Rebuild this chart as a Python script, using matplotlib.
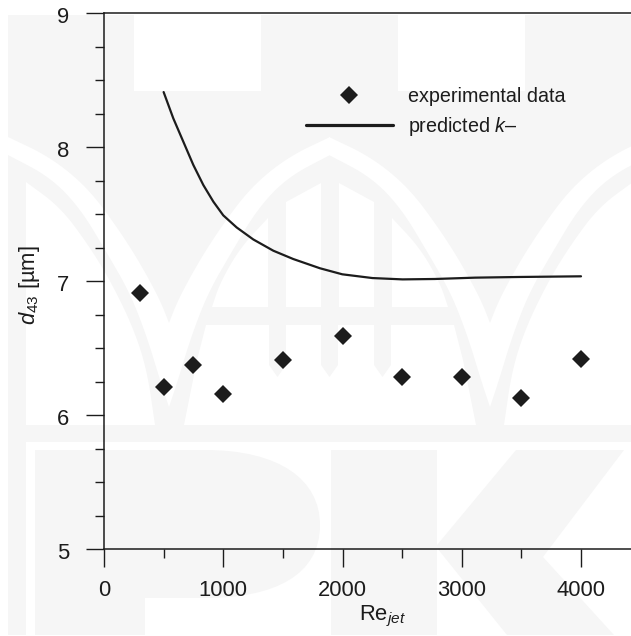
import matplotlib
matplotlib.use('Agg')
import matplotlib.pyplot as plt
from matplotlib.lines import Line2D
from matplotlib.patches import Polygon, PathPatch
from matplotlib.path import Path
from matplotlib.ticker import FixedLocator, NullFormatter
from matplotlib.transforms import Affine2D

# ---- data ----
exp_re = [300, 500, 750, 1000, 1500, 2000, 2500, 3000, 3500, 4000]
exp_d43 = [6.91, 6.21, 6.37, 6.16, 6.41, 6.59, 6.28, 6.28, 6.13, 6.42]
pred_re = [500, 581, 665, 749, 833, 917, 1000, 1112, 1252, 1420, 1587, 1811, 1998, 2251, 2504, 2774, 3112, 3483, 4000]
pred_d43 = [8.41, 8.214, 8.04, 7.866, 7.716, 7.592, 7.49, 7.40, 7.31, 7.226, 7.164, 7.095, 7.05, 7.022, 7.012, 7.015, 7.025, 7.03, 7.035]
x_major = [0, 1000, 2000, 3000, 4000]
x_minor = [500, 1500, 2500, 3500]
y_major = [5, 6, 7, 8, 9]
y_minor = [5.25, 5.5, 5.75, 6.25, 6.5, 6.75, 7.25, 7.5, 7.75, 8.25, 8.5, 8.75]
labels = ['experimental data', 'predicted $\\mathit{k}$\u2013']
x_title = '$\\mathregular{Re}_{\\mathit{jet}}$'
y_title = '$\\mathit{d}_{\\mathregular{43}}$ [\u00b5m]'

W, H = 631, 636
INK = '#1c1c1c'
plt.rcParams['font.family'] = ['Liberation Sans', 'DejaVu Sans']
plt.rcParams['mathtext.fontset'] = 'custom'
plt.rcParams['mathtext.rm'] = 'Liberation Sans'
plt.rcParams['mathtext.it'] = 'Liberation Sans:italic'
plt.rcParams['mathtext.bf'] = 'Liberation Sans:bold'

fig = plt.figure(figsize=(W / 100, H / 100), dpi=100, facecolor='white')

# ---- faint background watermark, in image pixels ----
px = Affine2D().scale(1, -1).translate(0, H)
GREY = '#f6f6f6'


def poly(pts, color):
    fig.add_artist(Polygon(pts, closed=True, fc=color, ec='none', transform=px, zorder=-5))


def smooth(pts, n=3):
    """Corner cutting that keeps the end points of an outline edge."""
    for _ in range(n):
        out = [pts[0]]
        for (x0, y0), (x1, y1) in zip(pts[:-1], pts[1:]):
            out.append((0.75 * x0 + 0.25 * x1, 0.75 * y0 + 0.25 * y1))
            out.append((0.25 * x0 + 0.75 * x1, 0.25 * y0 + 0.75 * y1))
        out.append(pts[-1])
        pts = out
    return pts


band_top = smooth([(8, 137), (50, 157), (87, 187), (117, 227), (140, 263), (160, 300), (169, 323)])
band_low = smooth([(8, 155), (50, 177), (80, 208), (107, 253), (130, 293), (147, 337), (160, 380), (169, 407)])
band = band_top + band_low[::-1]
lancet = smooth([(26, 182), (60, 207), (87, 243), (110, 280), (133, 327), (147, 370), (155, 425)]) + [(26, 425)]

poly([(8, 15), (W, 15), (W, 635), (8, 635)], GREY)
for x0, x1 in [(134, 261), (398, 525)]:
    poly([(x0, 15), (x1, 15), (x1, 91), (x0, 91)], 'white')
for f in [lambda x: x, lambda x: x + 321, lambda x: 338 - x, lambda x: 659 - x]:
    poly([(f(x), y) for x, y in band], 'white')
poly(lancet, 'white')
poly([(659 - x, y) for x, y in lancet], 'white')
# central windows
win_a = smooth([(212, 307), (220, 283), (240, 248), (268, 218)]) + [(268, 307)]
win_b = [(286, 307), (286, 202), (321, 183), (321, 307)]
for w in (win_a, win_b):
    poly(w, 'white')
    poly([(660 - x, y) for x, y in w], 'white')
poly([(206, 325), (454, 325), (463, 360), (476, 425), (184, 425), (197, 360)], 'white')
for x0, x1 in [(269, 286), (321, 338), (374, 391)]:
    poly([(x0, 325), (x1, 325), (x1, 365), ((x0 + x1) / 2, 377), (x0, 365)], GREY)
# lower letters
poly([(26, 442), (W, 442), (W, 635), (26, 635)], 'white')
P_verts = [(35, 450), (205, 450), (280, 450), (320, 480), (320, 525), (320, 575), (275, 598), (205, 598),
           (145, 598), (145, 635), (35, 635), (35, 450),
           (145, 463), (190, 463), (217, 485), (217, 518), (217, 552), (190, 572), (145, 572), (145, 463)]
L, M, C = Path.LINETO, Path.MOVETO, Path.CURVE4
P_codes = [M, L, C, C, C, C, C, C, L, L, L, L, M, C, C, C, C, C, C, L]
fig.add_artist(PathPatch(Path(P_verts, P_codes), fc=GREY, ec='none', transform=px, zorder=-4))
poly([(331, 450), (437, 450), (437, 635), (331, 635)], GREY)
poly([(437, 545), (516, 450), (624, 450), (543, 557), (614, 635), (507, 635), (437, 548)], GREY)

# ---- axes ----
ax = fig.add_axes([104 / W, (H - 549) / H, (W - 104) / W, 536 / H])
ax.patch.set_alpha(0)
ax.set_xlim(0, 4000 * (W - 104) / 477)
ax.set_ylim(5, 9)
ax.spines['right'].set_visible(False)
for side in ('left', 'top', 'bottom'):
    ax.spines[side].set_linewidth(1.1)
    ax.spines[side].set_color(INK)

ax.plot(pred_re, pred_d43, color=INK, lw=1.6, solid_capstyle='round', solid_joinstyle='round', zorder=3)
ax.plot(exp_re, exp_d43, ls='none', marker='D', ms=9.3, mfc=INK, mec=INK, mew=0, zorder=4)

ax.xaxis.set_major_locator(FixedLocator(x_major))
ax.xaxis.set_minor_locator(FixedLocator(x_minor))
ax.yaxis.set_major_locator(FixedLocator(y_major))
ax.yaxis.set_minor_locator(FixedLocator(y_minor))
ax.xaxis.set_minor_formatter(NullFormatter())
ax.yaxis.set_minor_formatter(NullFormatter())
ax.tick_params(axis='x', which='major', length=13, width=1.0, color=INK, pad=9.5, labelsize=15.8, labelcolor=INK)
ax.tick_params(axis='y', which='major', length=13, width=1.0, color=INK, pad=12, labelsize=15.8, labelcolor=INK)
ax.tick_params(which='minor', length=6.8, width=1.0, color=INK)
fig.canvas.draw()
for lbl in ax.get_yticklabels():
    lbl.set_transform(lbl.get_transform() + Affine2D().translate(0, -2))

ax.set_xlabel(x_title, fontsize=15.8, color=INK)
ax.xaxis.set_label_coords((383 - 104) / (W - 104), -(616 - 549) / 536, transform=ax.transAxes)
ax.xaxis.label.set_verticalalignment('center')
ax.set_ylabel(y_title, fontsize=15.8, color=INK)
ax.yaxis.set_label_coords(-(104 - 30) / (W - 104), (549 - 285) / 536, transform=ax.transAxes)
ax.yaxis.label.set_verticalalignment('center')

handles = [Line2D([], [], ls='none', marker='D', ms=9.3, mfc=INK, mec=INK, mew=0),
           Line2D([], [], color=INK, lw=2.3, solid_capstyle='round')]
ax.legend(handles, labels, loc='upper left', bbox_to_anchor=(306 / W, (H - 87) / H),
          bbox_transform=fig.transFigure, frameon=False, fontsize=14.2, borderpad=0, borderaxespad=0,
          handlelength=4.4, handletextpad=0.76, labelspacing=0.47, labelcolor=INK)

fig.savefig('out.png', dpi=100)
